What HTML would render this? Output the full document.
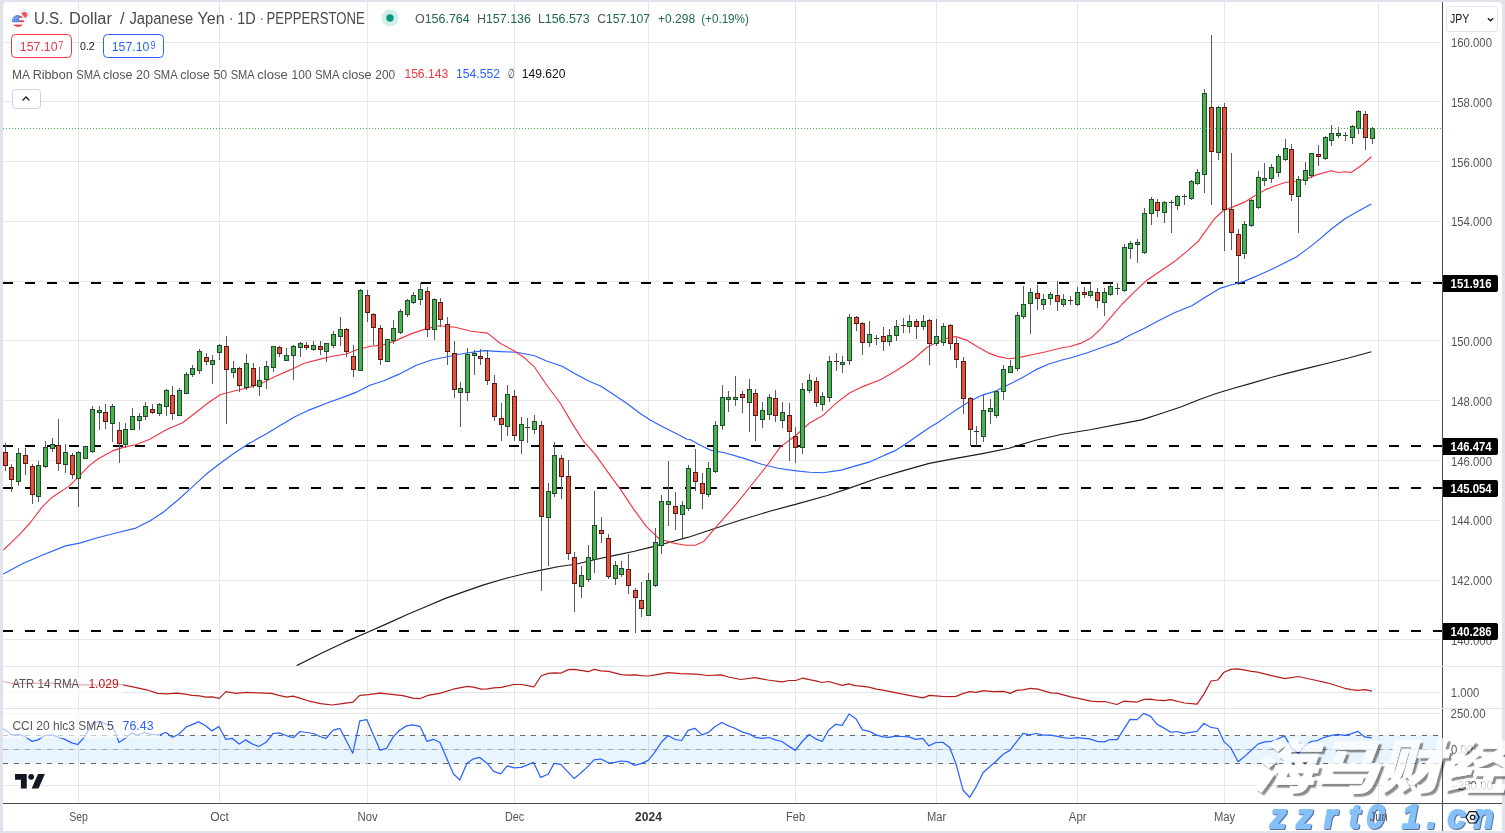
<!DOCTYPE html>
<html><head><meta charset="utf-8"><title>USDJPY chart</title>
<style>
html,body{margin:0;padding:0;background:#e0e3eb;}
body{width:1505px;height:833px;overflow:hidden;position:relative;font-family:'Liberation Sans', sans-serif;}
svg{position:absolute;left:0;top:0;display:block;font-family:'Liberation Sans', sans-serif;}
.wm1{position:absolute;left:1251px;top:728px;font-family:'Liberation Sans','Noto Sans CJK SC',sans-serif;font-weight:900;font-style:italic;font-size:58px;line-height:80px;color:#fff;-webkit-text-stroke:0.700px #fff;white-space:nowrap;text-shadow:2.500px 2.500px 1.200px rgba(0,0,0,.6);opacity:.76;transform:scaleX(1.100);transform-origin:left bottom;}
</style></head>
<body>
<svg width="1505" height="833" viewBox="0 0 1505 833">
<defs><clipPath id="mainclip"><rect x="3" y="2" width="1440" height="664"/></clipPath></defs>
<rect x="0" y="0" width="1505" height="833" fill="#e0e3eb"/>
<path d="M3 831 V6 a4 4 0 0 1 4 -4 H1498 a4 4 0 0 1 4 4 V831 Z" fill="#fff"/>
<rect x="78" y="2" width="1" height="801" fill="#e7e7e7"/>
<rect x="219" y="2" width="1" height="801" fill="#e7e7e7"/>
<rect x="367" y="2" width="1" height="801" fill="#e7e7e7"/>
<rect x="514" y="2" width="1" height="801" fill="#e7e7e7"/>
<rect x="648" y="2" width="1" height="801" fill="#e7e7e7"/>
<rect x="795" y="2" width="1" height="801" fill="#e7e7e7"/>
<rect x="936" y="2" width="1" height="801" fill="#e7e7e7"/>
<rect x="1077" y="2" width="1" height="801" fill="#e7e7e7"/>
<rect x="1224" y="2" width="1" height="801" fill="#e7e7e7"/>
<rect x="1378" y="2" width="1" height="801" fill="#e7e7e7"/>
<rect x="3" y="639" width="1438" height="1" fill="#e7e7e7"/>
<rect x="3" y="580" width="1438" height="1" fill="#e7e7e7"/>
<rect x="3" y="520" width="1438" height="1" fill="#e7e7e7"/>
<rect x="3" y="460" width="1438" height="1" fill="#e7e7e7"/>
<rect x="3" y="400" width="1438" height="1" fill="#e7e7e7"/>
<rect x="3" y="340" width="1438" height="1" fill="#e7e7e7"/>
<rect x="3" y="281" width="1438" height="1" fill="#e7e7e7"/>
<rect x="3" y="221" width="1438" height="1" fill="#e7e7e7"/>
<rect x="3" y="161" width="1438" height="1" fill="#e7e7e7"/>
<rect x="3" y="101" width="1438" height="1" fill="#e7e7e7"/>
<rect x="3" y="42" width="1438" height="1" fill="#e7e7e7"/>
<rect x="3" y="692" width="1438" height="1" fill="#e7e7e7"/>
<rect x="3" y="713" width="1438" height="1" fill="#e7e7e7"/>
<rect x="3" y="785" width="1438" height="1" fill="#e7e7e7"/>
<rect x="3" y="735" width="1439" height="29" fill="#e8f4fe"/>
<rect x="3" y="749" width="1439" height="1" fill="#d8dde5"/>
<line x1="3" y1="735.5" x2="1442" y2="735.5" stroke="#686868" stroke-width="1" stroke-dasharray="5 6"/>
<line x1="3" y1="749.5" x2="1442" y2="749.5" stroke="#a3a6ad" stroke-width="1" stroke-dasharray="5 6"/>
<line x1="3" y1="763.5" x2="1442" y2="763.5" stroke="#686868" stroke-width="1" stroke-dasharray="5 6"/>
<rect x="78" y="735" width="1" height="29" fill="#d5dde6"/>
<rect x="219" y="735" width="1" height="29" fill="#d5dde6"/>
<rect x="367" y="735" width="1" height="29" fill="#d5dde6"/>
<rect x="514" y="735" width="1" height="29" fill="#d5dde6"/>
<rect x="648" y="735" width="1" height="29" fill="#d5dde6"/>
<rect x="795" y="735" width="1" height="29" fill="#d5dde6"/>
<rect x="936" y="735" width="1" height="29" fill="#d5dde6"/>
<rect x="1077" y="735" width="1" height="29" fill="#d5dde6"/>
<rect x="1224" y="735" width="1" height="29" fill="#d5dde6"/>
<rect x="1378" y="735" width="1" height="29" fill="#d5dde6"/>
<line x1="3" y1="283" x2="1443" y2="283" stroke="#000" stroke-width="2" stroke-dasharray="10 12"/>
<line x1="3" y1="446" x2="1443" y2="446" stroke="#000" stroke-width="2" stroke-dasharray="10 12"/>
<line x1="3" y1="488" x2="1443" y2="488" stroke="#000" stroke-width="2" stroke-dasharray="10 12"/>
<line x1="3" y1="631" x2="1443" y2="631" stroke="#000" stroke-width="2" stroke-dasharray="10 12"/>
<g clip-path="url(#mainclip)">
<polyline points="296.7,665.6 321.9,653.0 344.2,642.4 366.5,632.7 388.8,622.9 408.4,614.0 425.1,607.0 444.7,598.6 464.2,591.6 483.7,584.9 506.1,578.2 525.6,573.5 542.3,569.9 559.1,566.5 575.8,564.3 595.4,559.5 614.9,555.4 634.5,551.2 654.0,546.4 670.7,542.0 684.7,538.1 690.0,536.8 713.9,528.8 743.2,519.2 769.7,511.3 796.3,504.1 828.2,495.3 849.5,488.1 876.0,478.8 902.6,470.9 929.2,463.4 955.8,458.4 982.4,453.6 1008.9,448.3 1035.5,440.3 1062.1,434.2 1090.0,429.7 1141.4,419.9 1160.5,413.7 1181.4,406.7 1198.8,399.8 1216.2,393.5 1233.6,388.3 1251.0,383.4 1268.4,378.2 1285.8,373.6 1306.7,368.4 1327.6,363.2 1348.5,358.0 1371.4,351.7" fill="none" stroke="#1a1a1a" stroke-width="1.15" stroke-linejoin="round" />
<polyline points="3.3,574.0 23.4,563.2 42.1,555.3 65.5,545.9 79.6,543.1 98.3,537.5 117.0,532.8 135.8,528.1 149.8,521.1 163.9,511.7 177.9,500.0 191.9,487.4 206.0,474.3 220.0,463.5 234.1,453.2 248.1,443.9 266.9,433.6 280.9,425.1 294.9,416.7 309.0,410.1 327.7,402.7 346.4,396.1 355.8,392.4 369.9,385.3 383.9,380.7 397.9,374.6 400.0,373.7 416.2,365.2 432.4,359.7 448.6,356.5 464.9,353.2 484.3,350.6 500.5,351.6 516.7,352.3 534.6,355.8 545.9,360.7 562.1,366.2 575.1,373.7 588.1,380.8 601.0,386.3 614.0,394.7 627.0,403.5 639.9,413.2 649.7,419.7 662.6,426.8 675.6,433.3 687.0,439.2 690.0,439.5 700.6,445.6 711.3,450.4 724.6,452.8 743.2,458.1 761.8,464.2 777.7,468.2 796.3,470.9 809.6,472.2 822.9,472.7 841.5,470.1 854.8,466.1 870.7,461.6 884.0,455.4 894.7,450.9 905.3,444.3 918.6,435.0 929.2,427.8 937.2,423.0 947.8,415.6 958.4,408.4 969.1,401.8 982.4,395.1 995.6,391.1 1008.9,384.5 1022.2,377.8 1035.5,369.9 1048.8,364.0 1062.1,360.0 1070.0,358.0 1087.4,352.8 1104.8,346.5 1118.7,341.6 1129.2,335.4 1143.1,329.1 1157.0,321.4 1174.4,312.7 1191.8,305.8 1205.7,297.1 1219.7,288.4 1233.6,284.2 1244.0,281.4 1258.0,275.5 1271.9,269.2 1285.8,262.3 1296.2,257.0 1306.7,249.4 1317.1,241.4 1331.1,229.2 1345.0,218.8 1358.9,210.8 1371.4,204.1" fill="none" stroke="#2962ff" stroke-width="1.15" stroke-linejoin="round" />
<polyline points="3.3,550.1 11.7,542.2 21.1,532.8 30.4,522.5 42.1,507.1 51.5,497.7 60.9,491.6 70.2,485.1 79.6,475.7 89.0,465.9 98.3,458.8 112.4,450.9 124.1,447.1 135.8,444.8 149.8,439.2 166.2,429.8 182.6,422.8 196.6,412.0 208.3,402.7 220.0,394.7 234.1,391.0 248.1,387.7 262.2,383.0 276.2,376.0 290.3,369.9 304.3,363.3 318.4,359.6 332.4,356.3 346.4,354.0 358.1,349.3 369.9,346.5 383.9,344.6 397.9,339.9 400.0,338.6 413.0,333.1 425.9,328.9 438.9,325.7 455.1,327.3 471.3,331.2 487.5,333.1 500.5,343.5 513.5,350.6 524.8,358.1 534.6,367.2 545.9,384.0 560.5,403.5 571.9,422.9 583.2,440.8 594.6,453.7 607.5,471.6 620.5,489.4 633.5,508.9 646.4,526.7 659.4,539.0 672.4,542.9 685.3,545.2 695.9,545.1 704.0,541.3 713.9,529.3 724.6,517.4 737.8,502.2 751.1,485.5 767.1,465.5 780.4,446.9 796.3,435.0 809.6,423.0 822.9,415.6 836.2,403.1 849.5,393.0 862.8,386.6 881.4,379.2 897.3,369.9 913.3,359.2 926.5,347.8 937.2,342.0 947.8,338.0 955.8,336.6 966.4,340.1 977.0,346.5 987.7,352.6 998.3,356.6 1008.9,358.7 1019.6,357.4 1032.9,354.5 1046.1,351.8 1062.1,347.8 1070.0,346.5 1080.4,343.4 1090.9,338.1 1101.3,328.4 1111.8,316.2 1122.2,304.0 1134.4,291.9 1146.6,280.4 1160.5,271.0 1174.4,261.6 1188.3,250.1 1198.8,240.7 1205.7,230.9 1214.4,218.8 1223.2,210.8 1233.6,206.6 1244.0,202.4 1254.5,196.1 1264.9,189.9 1275.4,185.7 1285.8,182.2 1296.2,181.5 1306.7,178.7 1317.1,174.6 1331.1,170.7 1338.0,172.5 1345.0,171.8 1351.2,172.5 1362.4,164.8 1371.4,156.8" fill="none" stroke="#f23645" stroke-width="1.15" stroke-linejoin="round" />
</g>
<g shape-rendering="crispEdges"><rect x="5" y="443" width="1" height="28" fill="#5a5a5a"/><rect x="3" y="452" width="5" height="14" fill="#5a1b14"/><rect x="4" y="453" width="3" height="12" fill="#e0543f"/><rect x="11" y="464" width="1" height="28" fill="#5a5a5a"/><rect x="9" y="467" width="5" height="13" fill="#5a1b14"/><rect x="10" y="468" width="3" height="11" fill="#e0543f"/><rect x="18" y="448" width="1" height="38" fill="#5a5a5a"/><rect x="16" y="453" width="5" height="29" fill="#1d4d2b"/><rect x="17" y="454" width="3" height="27" fill="#4caf50"/><rect x="25" y="448" width="1" height="27" fill="#5a5a5a"/><rect x="23" y="455" width="5" height="9" fill="#5a1b14"/><rect x="24" y="456" width="3" height="7" fill="#e0543f"/><rect x="32" y="464" width="1" height="40" fill="#5a5a5a"/><rect x="30" y="466" width="5" height="29" fill="#5a1b14"/><rect x="31" y="467" width="3" height="27" fill="#e0543f"/><rect x="38" y="461" width="1" height="41" fill="#5a5a5a"/><rect x="36" y="465" width="5" height="32" fill="#1d4d2b"/><rect x="37" y="466" width="3" height="30" fill="#4caf50"/><rect x="45" y="441" width="1" height="27" fill="#5a5a5a"/><rect x="43" y="447" width="5" height="20" fill="#1d4d2b"/><rect x="44" y="448" width="3" height="18" fill="#4caf50"/><rect x="52" y="438" width="1" height="14" fill="#5a5a5a"/><rect x="50" y="444" width="5" height="5" fill="#1d4d2b"/><rect x="51" y="445" width="3" height="3" fill="#4caf50"/><rect x="58" y="419" width="1" height="52" fill="#5a5a5a"/><rect x="56" y="445" width="5" height="19" fill="#5a1b14"/><rect x="57" y="446" width="3" height="17" fill="#e0543f"/><rect x="65" y="444" width="1" height="29" fill="#5a5a5a"/><rect x="63" y="452" width="5" height="13" fill="#1d4d2b"/><rect x="64" y="453" width="3" height="11" fill="#4caf50"/><rect x="72" y="453" width="1" height="26" fill="#5a5a5a"/><rect x="70" y="455" width="5" height="20" fill="#5a1b14"/><rect x="71" y="456" width="3" height="18" fill="#e0543f"/><rect x="78" y="451" width="1" height="56" fill="#5a5a5a"/><rect x="76" y="452" width="5" height="27" fill="#1d4d2b"/><rect x="77" y="453" width="3" height="25" fill="#4caf50"/><rect x="85" y="446" width="1" height="13" fill="#5a5a5a"/><rect x="83" y="446" width="5" height="13" fill="#1d4d2b"/><rect x="84" y="447" width="3" height="11" fill="#4caf50"/><rect x="92" y="406" width="1" height="47" fill="#5a5a5a"/><rect x="90" y="409" width="5" height="43" fill="#1d4d2b"/><rect x="91" y="410" width="3" height="41" fill="#4caf50"/><rect x="99" y="406" width="1" height="24" fill="#5a5a5a"/><rect x="97" y="410" width="5" height="3" fill="#1d4d2b"/><rect x="98" y="411" width="3" height="1" fill="#4caf50"/><rect x="105" y="404" width="1" height="25" fill="#5a5a5a"/><rect x="103" y="412" width="5" height="10" fill="#5a1b14"/><rect x="104" y="413" width="3" height="8" fill="#e0543f"/><rect x="112" y="404" width="1" height="38" fill="#5a5a5a"/><rect x="110" y="406" width="5" height="18" fill="#1d4d2b"/><rect x="111" y="407" width="3" height="16" fill="#4caf50"/><rect x="119" y="422" width="1" height="41" fill="#5a5a5a"/><rect x="117" y="430" width="5" height="14" fill="#5a1b14"/><rect x="118" y="431" width="3" height="12" fill="#e0543f"/><rect x="125" y="423" width="1" height="25" fill="#5a5a5a"/><rect x="123" y="429" width="5" height="16" fill="#1d4d2b"/><rect x="124" y="430" width="3" height="14" fill="#4caf50"/><rect x="132" y="408" width="1" height="22" fill="#5a5a5a"/><rect x="130" y="416" width="5" height="14" fill="#1d4d2b"/><rect x="131" y="417" width="3" height="12" fill="#4caf50"/><rect x="139" y="413" width="1" height="17" fill="#5a5a5a"/><rect x="137" y="416" width="5" height="5" fill="#1d4d2b"/><rect x="138" y="417" width="3" height="3" fill="#4caf50"/><rect x="145" y="402" width="1" height="18" fill="#5a5a5a"/><rect x="143" y="406" width="5" height="11" fill="#1d4d2b"/><rect x="144" y="407" width="3" height="9" fill="#4caf50"/><rect x="152" y="404" width="1" height="10" fill="#5a5a5a"/><rect x="150" y="409" width="5" height="4" fill="#5a1b14"/><rect x="151" y="410" width="3" height="2" fill="#e0543f"/><rect x="159" y="403" width="1" height="13" fill="#5a5a5a"/><rect x="157" y="404" width="5" height="10" fill="#1d4d2b"/><rect x="158" y="405" width="3" height="8" fill="#4caf50"/><rect x="166" y="389" width="1" height="27" fill="#5a5a5a"/><rect x="164" y="390" width="5" height="17" fill="#1d4d2b"/><rect x="165" y="391" width="3" height="15" fill="#4caf50"/><rect x="172" y="386" width="1" height="34" fill="#5a5a5a"/><rect x="170" y="395" width="5" height="19" fill="#5a1b14"/><rect x="171" y="396" width="3" height="17" fill="#e0543f"/><rect x="179" y="388" width="1" height="28" fill="#5a5a5a"/><rect x="177" y="390" width="5" height="26" fill="#1d4d2b"/><rect x="178" y="391" width="3" height="24" fill="#4caf50"/><rect x="186" y="372" width="1" height="22" fill="#5a5a5a"/><rect x="184" y="374" width="5" height="20" fill="#1d4d2b"/><rect x="185" y="375" width="3" height="18" fill="#4caf50"/><rect x="192" y="365" width="1" height="12" fill="#5a5a5a"/><rect x="190" y="368" width="5" height="7" fill="#1d4d2b"/><rect x="191" y="369" width="3" height="5" fill="#4caf50"/><rect x="199" y="349" width="1" height="25" fill="#5a5a5a"/><rect x="197" y="351" width="5" height="20" fill="#1d4d2b"/><rect x="198" y="352" width="3" height="18" fill="#4caf50"/><rect x="206" y="353" width="1" height="12" fill="#5a5a5a"/><rect x="204" y="357" width="5" height="5" fill="#5a1b14"/><rect x="205" y="358" width="3" height="3" fill="#e0543f"/><rect x="212" y="355" width="1" height="29" fill="#5a5a5a"/><rect x="210" y="360" width="5" height="5" fill="#1d4d2b"/><rect x="211" y="361" width="3" height="3" fill="#4caf50"/><rect x="219" y="344" width="1" height="16" fill="#5a5a5a"/><rect x="217" y="345" width="5" height="8" fill="#1d4d2b"/><rect x="218" y="346" width="3" height="6" fill="#4caf50"/><rect x="226" y="336" width="1" height="88" fill="#5a5a5a"/><rect x="224" y="346" width="5" height="24" fill="#5a1b14"/><rect x="225" y="347" width="3" height="22" fill="#e0543f"/><rect x="233" y="361" width="1" height="17" fill="#5a5a5a"/><rect x="231" y="368" width="5" height="5" fill="#1d4d2b"/><rect x="232" y="369" width="3" height="3" fill="#4caf50"/><rect x="239" y="367" width="1" height="25" fill="#5a5a5a"/><rect x="237" y="368" width="5" height="18" fill="#5a1b14"/><rect x="238" y="369" width="3" height="16" fill="#e0543f"/><rect x="246" y="354" width="1" height="36" fill="#5a5a5a"/><rect x="244" y="363" width="5" height="25" fill="#1d4d2b"/><rect x="245" y="364" width="3" height="23" fill="#4caf50"/><rect x="253" y="363" width="1" height="25" fill="#5a5a5a"/><rect x="251" y="368" width="5" height="18" fill="#5a1b14"/><rect x="252" y="369" width="3" height="16" fill="#e0543f"/><rect x="259" y="367" width="1" height="29" fill="#5a5a5a"/><rect x="257" y="380" width="5" height="7" fill="#1d4d2b"/><rect x="258" y="381" width="3" height="5" fill="#4caf50"/><rect x="266" y="361" width="1" height="28" fill="#5a5a5a"/><rect x="264" y="366" width="5" height="14" fill="#1d4d2b"/><rect x="265" y="367" width="3" height="12" fill="#4caf50"/><rect x="273" y="346" width="1" height="26" fill="#5a5a5a"/><rect x="271" y="346" width="5" height="22" fill="#1d4d2b"/><rect x="272" y="347" width="3" height="20" fill="#4caf50"/><rect x="279" y="346" width="1" height="11" fill="#5a5a5a"/><rect x="277" y="347" width="5" height="7" fill="#5a1b14"/><rect x="278" y="348" width="3" height="5" fill="#e0543f"/><rect x="286" y="348" width="1" height="13" fill="#5a5a5a"/><rect x="284" y="355" width="5" height="6" fill="#1d4d2b"/><rect x="285" y="356" width="3" height="4" fill="#4caf50"/><rect x="293" y="345" width="1" height="35" fill="#5a5a5a"/><rect x="291" y="346" width="5" height="10" fill="#1d4d2b"/><rect x="292" y="347" width="3" height="8" fill="#4caf50"/><rect x="300" y="342" width="1" height="15" fill="#5a5a5a"/><rect x="298" y="343" width="5" height="5" fill="#1d4d2b"/><rect x="299" y="344" width="3" height="3" fill="#4caf50"/><rect x="306" y="342" width="1" height="8" fill="#5a5a5a"/><rect x="304" y="345" width="5" height="3" fill="#5a1b14"/><rect x="305" y="346" width="3" height="1" fill="#e0543f"/><rect x="313" y="341" width="1" height="10" fill="#5a5a5a"/><rect x="311" y="345" width="5" height="5" fill="#1d4d2b"/><rect x="312" y="346" width="3" height="3" fill="#4caf50"/><rect x="320" y="341" width="1" height="14" fill="#5a5a5a"/><rect x="318" y="346" width="5" height="4" fill="#5a1b14"/><rect x="319" y="347" width="3" height="2" fill="#e0543f"/><rect x="326" y="343" width="1" height="19" fill="#5a5a5a"/><rect x="324" y="343" width="5" height="9" fill="#1d4d2b"/><rect x="325" y="344" width="3" height="7" fill="#4caf50"/><rect x="333" y="331" width="1" height="17" fill="#5a5a5a"/><rect x="331" y="334" width="5" height="12" fill="#1d4d2b"/><rect x="332" y="335" width="3" height="10" fill="#4caf50"/><rect x="340" y="317" width="1" height="29" fill="#5a5a5a"/><rect x="338" y="329" width="5" height="8" fill="#1d4d2b"/><rect x="339" y="330" width="3" height="6" fill="#4caf50"/><rect x="346" y="328" width="1" height="29" fill="#5a5a5a"/><rect x="344" y="329" width="5" height="23" fill="#5a1b14"/><rect x="345" y="330" width="3" height="21" fill="#e0543f"/><rect x="353" y="345" width="1" height="32" fill="#5a5a5a"/><rect x="351" y="356" width="5" height="14" fill="#5a1b14"/><rect x="352" y="357" width="3" height="12" fill="#e0543f"/><rect x="360" y="289" width="1" height="82" fill="#5a5a5a"/><rect x="358" y="290" width="5" height="81" fill="#1d4d2b"/><rect x="359" y="291" width="3" height="79" fill="#4caf50"/><rect x="367" y="290" width="1" height="32" fill="#5a5a5a"/><rect x="365" y="295" width="5" height="18" fill="#5a1b14"/><rect x="366" y="296" width="3" height="16" fill="#e0543f"/><rect x="373" y="313" width="1" height="32" fill="#5a5a5a"/><rect x="371" y="314" width="5" height="14" fill="#5a1b14"/><rect x="372" y="315" width="3" height="12" fill="#e0543f"/><rect x="380" y="325" width="1" height="40" fill="#5a5a5a"/><rect x="378" y="328" width="5" height="32" fill="#5a1b14"/><rect x="379" y="329" width="3" height="30" fill="#e0543f"/><rect x="387" y="339" width="1" height="23" fill="#5a5a5a"/><rect x="385" y="339" width="5" height="23" fill="#1d4d2b"/><rect x="386" y="340" width="3" height="21" fill="#4caf50"/><rect x="393" y="320" width="1" height="24" fill="#5a5a5a"/><rect x="391" y="328" width="5" height="13" fill="#1d4d2b"/><rect x="392" y="329" width="3" height="11" fill="#4caf50"/><rect x="400" y="309" width="1" height="25" fill="#5a5a5a"/><rect x="398" y="311" width="5" height="22" fill="#1d4d2b"/><rect x="399" y="312" width="3" height="20" fill="#4caf50"/><rect x="407" y="299" width="1" height="18" fill="#5a5a5a"/><rect x="405" y="300" width="5" height="15" fill="#1d4d2b"/><rect x="406" y="301" width="3" height="13" fill="#4caf50"/><rect x="413" y="292" width="1" height="12" fill="#5a5a5a"/><rect x="411" y="295" width="5" height="8" fill="#1d4d2b"/><rect x="412" y="296" width="3" height="6" fill="#4caf50"/><rect x="420" y="283" width="1" height="22" fill="#5a5a5a"/><rect x="418" y="289" width="5" height="11" fill="#1d4d2b"/><rect x="419" y="290" width="3" height="9" fill="#4caf50"/><rect x="427" y="287" width="1" height="50" fill="#5a5a5a"/><rect x="425" y="291" width="5" height="39" fill="#5a1b14"/><rect x="426" y="292" width="3" height="37" fill="#e0543f"/><rect x="434" y="298" width="1" height="42" fill="#5a5a5a"/><rect x="432" y="299" width="5" height="31" fill="#1d4d2b"/><rect x="433" y="300" width="3" height="29" fill="#4caf50"/><rect x="440" y="298" width="1" height="29" fill="#5a5a5a"/><rect x="438" y="302" width="5" height="18" fill="#5a1b14"/><rect x="439" y="303" width="3" height="16" fill="#e0543f"/><rect x="447" y="317" width="1" height="48" fill="#5a5a5a"/><rect x="445" y="324" width="5" height="28" fill="#5a1b14"/><rect x="446" y="325" width="3" height="26" fill="#e0543f"/><rect x="454" y="341" width="1" height="57" fill="#5a5a5a"/><rect x="452" y="353" width="5" height="37" fill="#5a1b14"/><rect x="453" y="354" width="3" height="35" fill="#e0543f"/><rect x="460" y="382" width="1" height="45" fill="#5a5a5a"/><rect x="458" y="388" width="5" height="5" fill="#1d4d2b"/><rect x="459" y="389" width="3" height="3" fill="#4caf50"/><rect x="467" y="348" width="1" height="53" fill="#5a5a5a"/><rect x="465" y="354" width="5" height="39" fill="#1d4d2b"/><rect x="466" y="355" width="3" height="37" fill="#4caf50"/><rect x="474" y="350" width="1" height="25" fill="#5a5a5a"/><rect x="472" y="353" width="5" height="3" fill="#1d4d2b"/><rect x="473" y="354" width="3" height="1" fill="#4caf50"/><rect x="480" y="349" width="1" height="16" fill="#5a5a5a"/><rect x="478" y="356" width="5" height="3" fill="#5a1b14"/><rect x="479" y="357" width="3" height="1" fill="#e0543f"/><rect x="487" y="350" width="1" height="35" fill="#5a5a5a"/><rect x="485" y="358" width="5" height="23" fill="#5a1b14"/><rect x="486" y="359" width="3" height="21" fill="#e0543f"/><rect x="494" y="375" width="1" height="46" fill="#5a5a5a"/><rect x="492" y="383" width="5" height="34" fill="#5a1b14"/><rect x="493" y="384" width="3" height="32" fill="#e0543f"/><rect x="501" y="403" width="1" height="38" fill="#5a5a5a"/><rect x="499" y="418" width="5" height="7" fill="#5a1b14"/><rect x="500" y="419" width="3" height="5" fill="#e0543f"/><rect x="507" y="385" width="1" height="51" fill="#5a5a5a"/><rect x="505" y="394" width="5" height="33" fill="#1d4d2b"/><rect x="506" y="395" width="3" height="31" fill="#4caf50"/><rect x="514" y="390" width="1" height="51" fill="#5a5a5a"/><rect x="512" y="396" width="5" height="40" fill="#5a1b14"/><rect x="513" y="397" width="3" height="38" fill="#e0543f"/><rect x="521" y="417" width="1" height="37" fill="#5a5a5a"/><rect x="519" y="424" width="5" height="17" fill="#1d4d2b"/><rect x="520" y="425" width="3" height="15" fill="#4caf50"/><rect x="527" y="418" width="1" height="25" fill="#5a5a5a"/><rect x="525" y="427" width="5" height="1" fill="#1d4d2b"/><rect x="534" y="415" width="1" height="19" fill="#5a5a5a"/><rect x="532" y="421" width="5" height="9" fill="#1d4d2b"/><rect x="533" y="422" width="3" height="7" fill="#4caf50"/><rect x="541" y="421" width="1" height="170" fill="#5a5a5a"/><rect x="539" y="425" width="5" height="92" fill="#5a1b14"/><rect x="540" y="426" width="3" height="90" fill="#e0543f"/><rect x="548" y="483" width="1" height="83" fill="#5a5a5a"/><rect x="546" y="491" width="5" height="27" fill="#1d4d2b"/><rect x="547" y="492" width="3" height="25" fill="#4caf50"/><rect x="554" y="442" width="1" height="55" fill="#5a5a5a"/><rect x="552" y="455" width="5" height="39" fill="#1d4d2b"/><rect x="553" y="456" width="3" height="37" fill="#4caf50"/><rect x="561" y="455" width="1" height="44" fill="#5a5a5a"/><rect x="559" y="458" width="5" height="19" fill="#5a1b14"/><rect x="560" y="459" width="3" height="17" fill="#e0543f"/><rect x="568" y="460" width="1" height="100" fill="#5a5a5a"/><rect x="566" y="476" width="5" height="78" fill="#5a1b14"/><rect x="567" y="477" width="3" height="76" fill="#e0543f"/><rect x="574" y="552" width="1" height="60" fill="#5a5a5a"/><rect x="572" y="557" width="5" height="27" fill="#5a1b14"/><rect x="573" y="558" width="3" height="25" fill="#e0543f"/><rect x="581" y="566" width="1" height="32" fill="#5a5a5a"/><rect x="579" y="575" width="5" height="12" fill="#1d4d2b"/><rect x="580" y="576" width="3" height="10" fill="#4caf50"/><rect x="588" y="545" width="1" height="37" fill="#5a5a5a"/><rect x="586" y="557" width="5" height="23" fill="#1d4d2b"/><rect x="587" y="558" width="3" height="21" fill="#4caf50"/><rect x="594" y="491" width="1" height="82" fill="#5a5a5a"/><rect x="592" y="525" width="5" height="35" fill="#1d4d2b"/><rect x="593" y="526" width="3" height="33" fill="#4caf50"/><rect x="601" y="517" width="1" height="26" fill="#5a5a5a"/><rect x="599" y="530" width="5" height="4" fill="#5a1b14"/><rect x="600" y="531" width="3" height="2" fill="#e0543f"/><rect x="608" y="534" width="1" height="45" fill="#5a5a5a"/><rect x="606" y="538" width="5" height="39" fill="#5a1b14"/><rect x="607" y="539" width="3" height="37" fill="#e0543f"/><rect x="615" y="561" width="1" height="24" fill="#5a5a5a"/><rect x="613" y="565" width="5" height="14" fill="#1d4d2b"/><rect x="614" y="566" width="3" height="12" fill="#4caf50"/><rect x="621" y="561" width="1" height="16" fill="#5a5a5a"/><rect x="619" y="568" width="5" height="7" fill="#1d4d2b"/><rect x="620" y="569" width="3" height="5" fill="#4caf50"/><rect x="628" y="554" width="1" height="40" fill="#5a5a5a"/><rect x="626" y="569" width="5" height="17" fill="#5a1b14"/><rect x="627" y="570" width="3" height="15" fill="#e0543f"/><rect x="635" y="588" width="1" height="45" fill="#5a5a5a"/><rect x="633" y="590" width="5" height="8" fill="#5a1b14"/><rect x="634" y="591" width="3" height="6" fill="#e0543f"/><rect x="641" y="582" width="1" height="35" fill="#5a5a5a"/><rect x="639" y="600" width="5" height="9" fill="#5a1b14"/><rect x="640" y="601" width="3" height="7" fill="#e0543f"/><rect x="648" y="573" width="1" height="43" fill="#5a5a5a"/><rect x="646" y="580" width="5" height="36" fill="#1d4d2b"/><rect x="647" y="581" width="3" height="34" fill="#4caf50"/><rect x="655" y="528" width="1" height="59" fill="#5a5a5a"/><rect x="653" y="542" width="5" height="44" fill="#1d4d2b"/><rect x="654" y="543" width="3" height="42" fill="#4caf50"/><rect x="661" y="495" width="1" height="59" fill="#5a5a5a"/><rect x="659" y="501" width="5" height="45" fill="#1d4d2b"/><rect x="660" y="502" width="3" height="43" fill="#4caf50"/><rect x="668" y="461" width="1" height="65" fill="#5a5a5a"/><rect x="666" y="501" width="5" height="4" fill="#1d4d2b"/><rect x="667" y="502" width="3" height="2" fill="#4caf50"/><rect x="675" y="492" width="1" height="38" fill="#5a5a5a"/><rect x="673" y="506" width="5" height="8" fill="#5a1b14"/><rect x="674" y="507" width="3" height="6" fill="#e0543f"/><rect x="682" y="501" width="1" height="37" fill="#5a5a5a"/><rect x="680" y="505" width="5" height="10" fill="#1d4d2b"/><rect x="681" y="506" width="3" height="8" fill="#4caf50"/><rect x="688" y="465" width="1" height="46" fill="#5a5a5a"/><rect x="686" y="468" width="5" height="41" fill="#1d4d2b"/><rect x="687" y="469" width="3" height="39" fill="#4caf50"/><rect x="695" y="449" width="1" height="42" fill="#5a5a5a"/><rect x="693" y="472" width="5" height="10" fill="#5a1b14"/><rect x="694" y="473" width="3" height="8" fill="#e0543f"/><rect x="702" y="473" width="1" height="36" fill="#5a5a5a"/><rect x="700" y="483" width="5" height="11" fill="#5a1b14"/><rect x="701" y="484" width="3" height="9" fill="#e0543f"/><rect x="708" y="462" width="1" height="35" fill="#5a5a5a"/><rect x="706" y="468" width="5" height="27" fill="#1d4d2b"/><rect x="707" y="469" width="3" height="25" fill="#4caf50"/><rect x="715" y="421" width="1" height="52" fill="#5a5a5a"/><rect x="713" y="425" width="5" height="47" fill="#1d4d2b"/><rect x="714" y="426" width="3" height="45" fill="#4caf50"/><rect x="722" y="385" width="1" height="45" fill="#5a5a5a"/><rect x="720" y="397" width="5" height="29" fill="#1d4d2b"/><rect x="721" y="398" width="3" height="27" fill="#4caf50"/><rect x="728" y="391" width="1" height="21" fill="#5a5a5a"/><rect x="726" y="397" width="5" height="3" fill="#1d4d2b"/><rect x="727" y="398" width="3" height="1" fill="#4caf50"/><rect x="735" y="376" width="1" height="30" fill="#5a5a5a"/><rect x="733" y="397" width="5" height="3" fill="#1d4d2b"/><rect x="734" y="398" width="3" height="1" fill="#4caf50"/><rect x="742" y="391" width="1" height="22" fill="#5a5a5a"/><rect x="740" y="394" width="5" height="4" fill="#5a1b14"/><rect x="741" y="395" width="3" height="2" fill="#e0543f"/><rect x="749" y="379" width="1" height="53" fill="#5a5a5a"/><rect x="747" y="389" width="5" height="14" fill="#1d4d2b"/><rect x="748" y="390" width="3" height="12" fill="#4caf50"/><rect x="755" y="389" width="1" height="52" fill="#5a5a5a"/><rect x="753" y="393" width="5" height="23" fill="#5a1b14"/><rect x="754" y="394" width="3" height="21" fill="#e0543f"/><rect x="762" y="402" width="1" height="26" fill="#5a5a5a"/><rect x="760" y="410" width="5" height="10" fill="#1d4d2b"/><rect x="761" y="411" width="3" height="8" fill="#4caf50"/><rect x="769" y="394" width="1" height="26" fill="#5a5a5a"/><rect x="767" y="397" width="5" height="18" fill="#1d4d2b"/><rect x="768" y="398" width="3" height="16" fill="#4caf50"/><rect x="775" y="390" width="1" height="32" fill="#5a5a5a"/><rect x="773" y="398" width="5" height="18" fill="#5a1b14"/><rect x="774" y="399" width="3" height="16" fill="#e0543f"/><rect x="782" y="402" width="1" height="26" fill="#5a5a5a"/><rect x="780" y="412" width="5" height="9" fill="#1d4d2b"/><rect x="781" y="413" width="3" height="7" fill="#4caf50"/><rect x="789" y="403" width="1" height="58" fill="#5a5a5a"/><rect x="787" y="415" width="5" height="17" fill="#5a1b14"/><rect x="788" y="416" width="3" height="15" fill="#e0543f"/><rect x="795" y="427" width="1" height="36" fill="#5a5a5a"/><rect x="793" y="436" width="5" height="12" fill="#5a1b14"/><rect x="794" y="437" width="3" height="10" fill="#e0543f"/><rect x="802" y="383" width="1" height="71" fill="#5a5a5a"/><rect x="800" y="389" width="5" height="59" fill="#1d4d2b"/><rect x="801" y="390" width="3" height="57" fill="#4caf50"/><rect x="809" y="374" width="1" height="19" fill="#5a5a5a"/><rect x="807" y="380" width="5" height="11" fill="#1d4d2b"/><rect x="808" y="381" width="3" height="9" fill="#4caf50"/><rect x="816" y="377" width="1" height="30" fill="#5a5a5a"/><rect x="814" y="381" width="5" height="22" fill="#5a1b14"/><rect x="815" y="382" width="3" height="20" fill="#e0543f"/><rect x="822" y="392" width="1" height="19" fill="#5a5a5a"/><rect x="820" y="396" width="5" height="9" fill="#1d4d2b"/><rect x="821" y="397" width="3" height="7" fill="#4caf50"/><rect x="829" y="356" width="1" height="46" fill="#5a5a5a"/><rect x="827" y="361" width="5" height="37" fill="#1d4d2b"/><rect x="828" y="362" width="3" height="35" fill="#4caf50"/><rect x="836" y="353" width="1" height="18" fill="#5a5a5a"/><rect x="834" y="361" width="5" height="1" fill="#5a1b14"/><rect x="842" y="356" width="1" height="17" fill="#5a5a5a"/><rect x="840" y="362" width="5" height="3" fill="#1d4d2b"/><rect x="841" y="363" width="3" height="1" fill="#4caf50"/><rect x="849" y="314" width="1" height="51" fill="#5a5a5a"/><rect x="847" y="317" width="5" height="44" fill="#1d4d2b"/><rect x="848" y="318" width="3" height="42" fill="#4caf50"/><rect x="856" y="316" width="1" height="15" fill="#5a5a5a"/><rect x="854" y="317" width="5" height="7" fill="#5a1b14"/><rect x="855" y="318" width="3" height="5" fill="#e0543f"/><rect x="862" y="322" width="1" height="33" fill="#5a5a5a"/><rect x="860" y="323" width="5" height="20" fill="#5a1b14"/><rect x="861" y="324" width="3" height="18" fill="#e0543f"/><rect x="869" y="321" width="1" height="26" fill="#5a5a5a"/><rect x="867" y="334" width="5" height="9" fill="#1d4d2b"/><rect x="868" y="335" width="3" height="7" fill="#4caf50"/><rect x="876" y="335" width="1" height="10" fill="#5a5a5a"/><rect x="874" y="338" width="5" height="1" fill="#1d4d2b"/><rect x="883" y="327" width="1" height="24" fill="#5a5a5a"/><rect x="881" y="336" width="5" height="6" fill="#5a1b14"/><rect x="882" y="337" width="3" height="4" fill="#e0543f"/><rect x="889" y="329" width="1" height="17" fill="#5a5a5a"/><rect x="887" y="335" width="5" height="7" fill="#1d4d2b"/><rect x="888" y="336" width="3" height="5" fill="#4caf50"/><rect x="896" y="320" width="1" height="21" fill="#5a5a5a"/><rect x="894" y="326" width="5" height="10" fill="#1d4d2b"/><rect x="895" y="327" width="3" height="8" fill="#4caf50"/><rect x="903" y="318" width="1" height="15" fill="#5a5a5a"/><rect x="901" y="325" width="5" height="1" fill="#5a1b14"/><rect x="909" y="315" width="1" height="18" fill="#5a5a5a"/><rect x="907" y="321" width="5" height="6" fill="#1d4d2b"/><rect x="908" y="322" width="3" height="4" fill="#4caf50"/><rect x="916" y="319" width="1" height="20" fill="#5a5a5a"/><rect x="914" y="321" width="5" height="6" fill="#5a1b14"/><rect x="915" y="322" width="3" height="4" fill="#e0543f"/><rect x="923" y="315" width="1" height="15" fill="#5a5a5a"/><rect x="921" y="321" width="5" height="6" fill="#1d4d2b"/><rect x="922" y="322" width="3" height="4" fill="#4caf50"/><rect x="929" y="319" width="1" height="46" fill="#5a5a5a"/><rect x="927" y="320" width="5" height="24" fill="#5a1b14"/><rect x="928" y="321" width="3" height="22" fill="#e0543f"/><rect x="936" y="319" width="1" height="27" fill="#5a5a5a"/><rect x="934" y="336" width="5" height="8" fill="#1d4d2b"/><rect x="935" y="337" width="3" height="6" fill="#4caf50"/><rect x="943" y="323" width="1" height="23" fill="#5a5a5a"/><rect x="941" y="326" width="5" height="17" fill="#1d4d2b"/><rect x="942" y="327" width="3" height="15" fill="#4caf50"/><rect x="950" y="324" width="1" height="26" fill="#5a5a5a"/><rect x="948" y="325" width="5" height="19" fill="#5a1b14"/><rect x="949" y="326" width="3" height="17" fill="#e0543f"/><rect x="956" y="338" width="1" height="30" fill="#5a5a5a"/><rect x="954" y="343" width="5" height="17" fill="#5a1b14"/><rect x="955" y="344" width="3" height="15" fill="#e0543f"/><rect x="963" y="357" width="1" height="57" fill="#5a5a5a"/><rect x="961" y="361" width="5" height="38" fill="#5a1b14"/><rect x="962" y="362" width="3" height="36" fill="#e0543f"/><rect x="970" y="397" width="1" height="49" fill="#5a5a5a"/><rect x="968" y="398" width="5" height="32" fill="#5a1b14"/><rect x="969" y="399" width="3" height="30" fill="#e0543f"/><rect x="976" y="426" width="1" height="20" fill="#5a5a5a"/><rect x="974" y="431" width="5" height="1" fill="#5a1b14"/><rect x="983" y="395" width="1" height="47" fill="#5a5a5a"/><rect x="981" y="410" width="5" height="27" fill="#1d4d2b"/><rect x="982" y="411" width="3" height="25" fill="#4caf50"/><rect x="990" y="399" width="1" height="25" fill="#5a5a5a"/><rect x="988" y="408" width="5" height="4" fill="#1d4d2b"/><rect x="989" y="409" width="3" height="2" fill="#4caf50"/><rect x="996" y="390" width="1" height="28" fill="#5a5a5a"/><rect x="994" y="391" width="5" height="25" fill="#1d4d2b"/><rect x="995" y="392" width="3" height="23" fill="#4caf50"/><rect x="1003" y="365" width="1" height="35" fill="#5a5a5a"/><rect x="1001" y="369" width="5" height="23" fill="#1d4d2b"/><rect x="1002" y="370" width="3" height="21" fill="#4caf50"/><rect x="1010" y="360" width="1" height="13" fill="#5a5a5a"/><rect x="1008" y="366" width="5" height="7" fill="#1d4d2b"/><rect x="1009" y="367" width="3" height="5" fill="#4caf50"/><rect x="1017" y="312" width="1" height="59" fill="#5a5a5a"/><rect x="1015" y="315" width="5" height="54" fill="#1d4d2b"/><rect x="1016" y="316" width="3" height="52" fill="#4caf50"/><rect x="1023" y="286" width="1" height="33" fill="#5a5a5a"/><rect x="1021" y="304" width="5" height="13" fill="#1d4d2b"/><rect x="1022" y="305" width="3" height="11" fill="#4caf50"/><rect x="1030" y="288" width="1" height="46" fill="#5a5a5a"/><rect x="1028" y="292" width="5" height="12" fill="#1d4d2b"/><rect x="1029" y="293" width="3" height="10" fill="#4caf50"/><rect x="1037" y="285" width="1" height="25" fill="#5a5a5a"/><rect x="1035" y="293" width="5" height="6" fill="#5a1b14"/><rect x="1036" y="294" width="3" height="4" fill="#e0543f"/><rect x="1043" y="294" width="1" height="16" fill="#5a5a5a"/><rect x="1041" y="299" width="5" height="6" fill="#1d4d2b"/><rect x="1042" y="300" width="3" height="4" fill="#4caf50"/><rect x="1050" y="292" width="1" height="13" fill="#5a5a5a"/><rect x="1048" y="294" width="5" height="5" fill="#1d4d2b"/><rect x="1049" y="295" width="3" height="3" fill="#4caf50"/><rect x="1057" y="281" width="1" height="30" fill="#5a5a5a"/><rect x="1055" y="295" width="5" height="7" fill="#5a1b14"/><rect x="1056" y="296" width="3" height="5" fill="#e0543f"/><rect x="1063" y="294" width="1" height="13" fill="#5a5a5a"/><rect x="1061" y="299" width="5" height="6" fill="#1d4d2b"/><rect x="1062" y="300" width="3" height="4" fill="#4caf50"/><rect x="1070" y="296" width="1" height="9" fill="#5a5a5a"/><rect x="1068" y="300" width="5" height="1" fill="#5a1b14"/><rect x="1077" y="287" width="1" height="19" fill="#5a5a5a"/><rect x="1075" y="292" width="5" height="13" fill="#1d4d2b"/><rect x="1076" y="293" width="3" height="11" fill="#4caf50"/><rect x="1084" y="287" width="1" height="11" fill="#5a5a5a"/><rect x="1082" y="292" width="5" height="3" fill="#5a1b14"/><rect x="1083" y="293" width="3" height="1" fill="#e0543f"/><rect x="1090" y="283" width="1" height="15" fill="#5a5a5a"/><rect x="1088" y="291" width="5" height="5" fill="#1d4d2b"/><rect x="1089" y="292" width="3" height="3" fill="#4caf50"/><rect x="1097" y="288" width="1" height="20" fill="#5a5a5a"/><rect x="1095" y="292" width="5" height="9" fill="#5a1b14"/><rect x="1096" y="293" width="3" height="7" fill="#e0543f"/><rect x="1104" y="288" width="1" height="28" fill="#5a5a5a"/><rect x="1102" y="292" width="5" height="11" fill="#1d4d2b"/><rect x="1103" y="293" width="3" height="9" fill="#4caf50"/><rect x="1110" y="283" width="1" height="13" fill="#5a5a5a"/><rect x="1108" y="286" width="5" height="9" fill="#1d4d2b"/><rect x="1109" y="287" width="3" height="7" fill="#4caf50"/><rect x="1117" y="283" width="1" height="12" fill="#5a5a5a"/><rect x="1115" y="288" width="5" height="1" fill="#1d4d2b"/><rect x="1124" y="244" width="1" height="48" fill="#5a5a5a"/><rect x="1122" y="247" width="5" height="44" fill="#1d4d2b"/><rect x="1123" y="248" width="3" height="42" fill="#4caf50"/><rect x="1130" y="241" width="1" height="18" fill="#5a5a5a"/><rect x="1128" y="243" width="5" height="6" fill="#1d4d2b"/><rect x="1129" y="244" width="3" height="4" fill="#4caf50"/><rect x="1137" y="239" width="1" height="24" fill="#5a5a5a"/><rect x="1135" y="242" width="5" height="3" fill="#1d4d2b"/><rect x="1136" y="243" width="3" height="1" fill="#4caf50"/><rect x="1144" y="208" width="1" height="46" fill="#5a5a5a"/><rect x="1142" y="213" width="5" height="40" fill="#1d4d2b"/><rect x="1143" y="214" width="3" height="38" fill="#4caf50"/><rect x="1151" y="197" width="1" height="28" fill="#5a5a5a"/><rect x="1149" y="199" width="5" height="15" fill="#1d4d2b"/><rect x="1150" y="200" width="3" height="13" fill="#4caf50"/><rect x="1157" y="199" width="1" height="18" fill="#5a5a5a"/><rect x="1155" y="202" width="5" height="9" fill="#5a1b14"/><rect x="1156" y="203" width="3" height="7" fill="#e0543f"/><rect x="1164" y="201" width="1" height="22" fill="#5a5a5a"/><rect x="1162" y="202" width="5" height="11" fill="#1d4d2b"/><rect x="1163" y="203" width="3" height="9" fill="#4caf50"/><rect x="1171" y="200" width="1" height="33" fill="#5a5a5a"/><rect x="1169" y="202" width="5" height="1" fill="#1d4d2b"/><rect x="1177" y="195" width="1" height="15" fill="#5a5a5a"/><rect x="1175" y="196" width="5" height="10" fill="#1d4d2b"/><rect x="1176" y="197" width="3" height="8" fill="#4caf50"/><rect x="1184" y="194" width="1" height="11" fill="#5a5a5a"/><rect x="1182" y="196" width="5" height="1" fill="#1d4d2b"/><rect x="1191" y="180" width="1" height="20" fill="#5a5a5a"/><rect x="1189" y="181" width="5" height="18" fill="#1d4d2b"/><rect x="1190" y="182" width="3" height="16" fill="#4caf50"/><rect x="1197" y="169" width="1" height="16" fill="#5a5a5a"/><rect x="1195" y="172" width="5" height="12" fill="#1d4d2b"/><rect x="1196" y="173" width="3" height="10" fill="#4caf50"/><rect x="1204" y="89" width="1" height="104" fill="#5a5a5a"/><rect x="1202" y="93" width="5" height="82" fill="#1d4d2b"/><rect x="1203" y="94" width="3" height="80" fill="#4caf50"/><rect x="1211" y="35" width="1" height="170" fill="#5a5a5a"/><rect x="1209" y="107" width="5" height="45" fill="#5a1b14"/><rect x="1210" y="108" width="3" height="43" fill="#e0543f"/><rect x="1218" y="106" width="1" height="54" fill="#5a5a5a"/><rect x="1216" y="107" width="5" height="46" fill="#1d4d2b"/><rect x="1217" y="108" width="3" height="44" fill="#4caf50"/><rect x="1224" y="103" width="1" height="148" fill="#5a5a5a"/><rect x="1222" y="107" width="5" height="103" fill="#5a1b14"/><rect x="1223" y="108" width="3" height="101" fill="#e0543f"/><rect x="1231" y="153" width="1" height="97" fill="#5a5a5a"/><rect x="1229" y="209" width="5" height="24" fill="#5a1b14"/><rect x="1230" y="210" width="3" height="22" fill="#e0543f"/><rect x="1238" y="229" width="1" height="56" fill="#5a5a5a"/><rect x="1236" y="234" width="5" height="22" fill="#5a1b14"/><rect x="1237" y="235" width="3" height="20" fill="#e0543f"/><rect x="1244" y="221" width="1" height="38" fill="#5a5a5a"/><rect x="1242" y="224" width="5" height="30" fill="#1d4d2b"/><rect x="1243" y="225" width="3" height="28" fill="#4caf50"/><rect x="1251" y="199" width="1" height="28" fill="#5a5a5a"/><rect x="1249" y="200" width="5" height="26" fill="#1d4d2b"/><rect x="1250" y="201" width="3" height="24" fill="#4caf50"/><rect x="1258" y="171" width="1" height="38" fill="#5a5a5a"/><rect x="1256" y="177" width="5" height="31" fill="#1d4d2b"/><rect x="1257" y="178" width="3" height="29" fill="#4caf50"/><rect x="1264" y="163" width="1" height="23" fill="#5a5a5a"/><rect x="1262" y="178" width="5" height="3" fill="#1d4d2b"/><rect x="1263" y="179" width="3" height="1" fill="#4caf50"/><rect x="1271" y="164" width="1" height="19" fill="#5a5a5a"/><rect x="1269" y="167" width="5" height="12" fill="#1d4d2b"/><rect x="1270" y="168" width="3" height="10" fill="#4caf50"/><rect x="1278" y="154" width="1" height="23" fill="#5a5a5a"/><rect x="1276" y="156" width="5" height="17" fill="#1d4d2b"/><rect x="1277" y="157" width="3" height="15" fill="#4caf50"/><rect x="1285" y="139" width="1" height="22" fill="#5a5a5a"/><rect x="1283" y="148" width="5" height="12" fill="#1d4d2b"/><rect x="1284" y="149" width="3" height="10" fill="#4caf50"/><rect x="1291" y="144" width="1" height="57" fill="#5a5a5a"/><rect x="1289" y="149" width="5" height="46" fill="#5a1b14"/><rect x="1290" y="150" width="3" height="44" fill="#e0543f"/><rect x="1298" y="176" width="1" height="57" fill="#5a5a5a"/><rect x="1296" y="179" width="5" height="18" fill="#1d4d2b"/><rect x="1297" y="180" width="3" height="16" fill="#4caf50"/><rect x="1305" y="162" width="1" height="23" fill="#5a5a5a"/><rect x="1303" y="170" width="5" height="11" fill="#1d4d2b"/><rect x="1304" y="171" width="3" height="9" fill="#4caf50"/><rect x="1311" y="153" width="1" height="25" fill="#5a5a5a"/><rect x="1309" y="153" width="5" height="23" fill="#1d4d2b"/><rect x="1310" y="154" width="3" height="21" fill="#4caf50"/><rect x="1318" y="145" width="1" height="21" fill="#5a5a5a"/><rect x="1316" y="154" width="5" height="3" fill="#5a1b14"/><rect x="1317" y="155" width="3" height="1" fill="#e0543f"/><rect x="1325" y="136" width="1" height="24" fill="#5a5a5a"/><rect x="1323" y="137" width="5" height="22" fill="#1d4d2b"/><rect x="1324" y="138" width="3" height="20" fill="#4caf50"/><rect x="1331" y="125" width="1" height="21" fill="#5a5a5a"/><rect x="1329" y="133" width="5" height="8" fill="#1d4d2b"/><rect x="1330" y="134" width="3" height="6" fill="#4caf50"/><rect x="1338" y="127" width="1" height="11" fill="#5a5a5a"/><rect x="1336" y="133" width="5" height="3" fill="#1d4d2b"/><rect x="1337" y="134" width="3" height="1" fill="#4caf50"/><rect x="1345" y="132" width="1" height="9" fill="#5a5a5a"/><rect x="1343" y="135" width="5" height="1" fill="#1d4d2b"/><rect x="1352" y="125" width="1" height="19" fill="#5a5a5a"/><rect x="1350" y="126" width="5" height="12" fill="#1d4d2b"/><rect x="1351" y="127" width="3" height="10" fill="#4caf50"/><rect x="1358" y="110" width="1" height="24" fill="#5a5a5a"/><rect x="1356" y="111" width="5" height="18" fill="#1d4d2b"/><rect x="1357" y="112" width="3" height="16" fill="#4caf50"/><rect x="1365" y="111" width="1" height="39" fill="#5a5a5a"/><rect x="1363" y="114" width="5" height="24" fill="#5a1b14"/><rect x="1364" y="115" width="3" height="22" fill="#e0543f"/><rect x="1372" y="127" width="1" height="17" fill="#5a5a5a"/><rect x="1370" y="128" width="5" height="11" fill="#1d4d2b"/><rect x="1371" y="129" width="3" height="9" fill="#4caf50"/></g>
<line x1="3" y1="128.5" x2="1442" y2="128.5" stroke="#4caf50" stroke-width="1" stroke-dasharray="1 2"/>
<polyline points="3.0,681.5 12.6,683.3 32.8,683.3 50.5,683.0 78.3,684.8 101.0,684.8 118.7,684.0 133.8,687.1 146.5,689.8 157.8,693.4 166.7,693.9 176.8,693.1 186.9,694.4 191.9,695.4 199.5,695.9 205.8,697.2 212.1,696.9 219.2,698.4 226.0,691.6 236.1,693.4 246.2,692.4 257.6,692.9 271.5,693.4 279.0,695.4 286.6,697.2 292.9,696.2 299.2,697.9 309.3,701.2 320.7,703.7 332.1,705.0 342.2,703.7 352.8,702.2 359.8,695.4 368.7,694.6 380.1,693.1 391.5,694.4 402.8,695.7 412.9,698.2 419.7,698.7 428.1,695.4 440.7,693.1 454.6,688.8 467.2,686.3 473.5,687.1 481.1,689.1 487.4,688.8 493.7,687.8 501.3,687.3 513.9,684.5 521.5,684.5 534.1,686.8 541.0,676.0 548.0,673.4 554.3,672.9 560.7,673.2 568.2,669.6 574.5,669.4 588.4,671.7 594.0,669.4 601.1,670.9 608.6,671.4 621.3,674.7 627.6,675.2 635.2,674.9 641.5,675.7 647.8,676.0 655.4,674.9 668.0,672.7 680.6,673.7 695.8,674.2 708.4,675.5 721.0,674.9 728.6,677.0 740.6,679.5 755.2,677.7 767.8,680.0 781.7,681.8 789.2,680.5 795.6,680.5 802.4,678.2 809.4,679.7 815.8,680.8 822.1,682.5 828.4,681.5 842.3,685.3 848.6,683.8 854.9,685.6 861.2,686.1 868.8,687.1 876.4,689.1 883.9,690.4 896.6,692.9 909.2,695.4 923.1,697.9 929.4,695.4 942.0,696.4 949.6,696.7 955.9,696.4 963.5,693.4 969.8,691.6 976.1,692.4 983.7,690.6 992.5,691.6 1003.9,691.4 1010.2,693.4 1016.5,690.4 1022.8,689.8 1030.4,688.3 1038.0,689.1 1050.6,692.9 1056.9,693.1 1070.8,696.9 1078.4,698.4 1091.0,701.2 1097.3,701.7 1104.9,701.5 1116.7,704.5 1123.9,701.2 1136.5,702.2 1144.1,699.4 1150.4,699.2 1156.7,700.2 1164.3,700.7 1170.6,699.7 1184.5,703.0 1197.1,704.2 1203.9,694.1 1211.0,681.0 1217.8,680.0 1224.1,672.2 1230.7,669.4 1237.5,668.9 1245.1,670.2 1251.4,671.4 1257.7,672.2 1271.6,675.7 1285.0,678.7 1298.1,676.5 1312.0,679.5 1327.2,682.8 1344.8,688.3 1351.2,689.6 1357.5,690.4 1365.1,689.6 1371.9,691.1" fill="none" stroke="#b71c1c" stroke-width="1.2" stroke-linejoin="round" />
<polyline points="3.0,728.9 7.0,730.9 11.0,734.9 18.9,734.3 24.9,736.5 31.9,741.3 37.9,739.9 44.8,735.5 51.8,734.9 57.8,736.9 63.8,738.9 71.8,742.9 77.7,744.5 84.7,736.9 91.7,723.9 98.7,721.3 105.6,723.9 112.6,725.9 119.0,742.5 125.6,737.9 131.6,732.9 137.5,735.3 144.5,732.3 151.5,734.3 160.5,734.9 165.8,732.3 172.4,737.3 178.4,734.5 186.4,726.9 198.7,721.9 205.3,725.5 211.9,730.9 218.9,726.5 225.8,739.3 232.2,738.3 239.2,744.1 245.6,739.9 252.1,743.9 258.7,746.5 266.1,742.3 273.1,733.5 279.1,732.9 286.0,735.5 290.0,736.9 293.6,737.5 300.0,731.5 306.9,732.5 313.5,733.5 319.9,736.5 325.9,738.5 332.9,730.3 339.8,728.3 352.8,753.2 359.8,720.9 366.7,719.6 380.1,750.2 386.7,748.3 393.2,736.9 399.6,730.3 406.6,725.9 412.6,724.9 420.0,726.3 426.9,741.3 433.5,739.3 439.9,742.5 453.4,773.8 459.8,780.1 466.8,763.4 473.4,758.8 479.8,757.4 487.3,763.4 493.7,771.4 500.7,773.8 507.3,765.8 514.2,767.8 521.2,767.4 533.6,762.4 540.7,777.4 548.1,774.2 554.1,763.4 560.7,764.4 574.0,778.4 580.0,773.8 588.0,766.4 594.0,759.8 600.9,759.0 608.9,763.0 614.9,762.4 620.9,761.0 627.8,761.6 634.8,765.4 641.8,763.4 648.2,760.4 654.7,752.4 661.3,742.3 668.1,735.5 675.1,739.5 681.7,740.5 688.0,730.3 695.0,728.3 702.0,734.9 708.6,732.3 715.1,726.5 721.9,722.5 728.5,725.9 735.5,728.5 741.8,731.9 748.8,733.9 755.4,737.3 762.4,738.3 769.0,737.5 775.3,739.9 781.9,741.5 788.3,745.9 795.3,750.4 802.2,741.5 809.2,734.5 815.8,738.9 822.2,741.5 828.8,729.9 835.7,724.3 842.1,725.3 849.1,714.0 856.1,719.0 862.4,729.9 869.5,731.3 876.0,734.9 883.0,736.9 888.9,737.3 895.9,736.1 901.9,736.5 908.9,736.9 915.8,739.3 922.8,738.3 928.8,745.9 935.8,742.5 942.8,742.3 949.7,747.5 956.1,764.2 963.1,790.3 969.7,797.3 976.2,786.7 983.0,772.8 989.6,766.8 996.6,760.8 1003.1,754.2 1009.9,750.4 1016.5,741.9 1023.1,733.3 1029.5,734.9 1036.4,733.5 1043.4,735.1 1050.4,735.1 1056.4,736.1 1063.3,737.7 1069.9,738.5 1077.3,737.7 1083.3,738.3 1089.9,738.9 1097.2,741.3 1104.2,741.9 1110.2,739.5 1117.2,739.7 1123.1,730.3 1130.1,719.4 1137.1,719.6 1143.7,713.4 1150.6,716.4 1157.0,724.3 1160.0,725.9 1171.0,732.3 1176.9,731.5 1183.9,733.3 1190.5,732.3 1196.9,731.3 1203.9,723.5 1210.8,727.3 1217.8,728.5 1224.2,741.9 1230.8,747.9 1238.1,761.8 1244.7,756.4 1251.3,750.2 1258.3,743.9 1264.6,741.9 1271.6,741.3 1278.6,738.5 1284.6,735.9 1291.6,747.9 1298.5,753.4 1304.5,745.9 1311.1,741.5 1317.9,740.3 1324.4,737.3 1331.4,735.3 1338.0,734.3 1344.4,735.3 1351.0,733.9 1357.7,731.3 1364.7,736.9 1371.7,737.9" fill="none" stroke="#2962ff" stroke-width="1.25" stroke-linejoin="round" />
<rect x="1442" y="2" width="1" height="829" fill="#4d4d4f"/>
<rect x="3" y="803" width="1499" height="1" fill="#4d4d4f"/>
<rect x="3" y="666" width="1499" height="1" fill="#e0e3eb"/>
<rect x="3" y="708" width="1499" height="1" fill="#e0e3eb"/>
<!-- legend backgrounds -->
<rect x="3" y="669" width="120" height="25" fill="#fff" fill-opacity=".64"/>
<rect x="3" y="710" width="157" height="28" fill="#fff" fill-opacity=".64"/>
<!-- bid / ask boxes -->
<rect x="11.5" y="34.5" width="60" height="23" rx="4" fill="#fff" stroke="#f23645"/>
<rect x="103.5" y="34.5" width="60" height="23" rx="4" fill="#fff" stroke="#2962ff"/>
<!-- collapse button -->
<rect x="12.5" y="89.5" width="28" height="19" rx="3" fill="#fff" stroke="#cfd2dc"/>
<path d="M22.5 100.5 l3.5 -3.5 l3.5 3.5" fill="none" stroke="#222" stroke-width="1.3"/>
<!-- status dot -->
<circle cx="390" cy="18" r="8.5" fill="#d3eee9"/>
<circle cx="390" cy="18" r="3.7" fill="#089981"/>
<!-- flags -->
<g>
<circle cx="24.300" cy="14.800" r="5.700" fill="#e9edf5"/>
<circle cx="24.300" cy="14.800" r="2.900" fill="#f0525f"/>
<circle cx="18" cy="21" r="7.500" fill="#fff"/>
<clipPath id="us"><circle cx="18" cy="21" r="6"/></clipPath>
<g clip-path="url(#us)">
<rect x="12" y="15" width="12" height="12" fill="#fff"/>
<rect x="12" y="15.600" width="12" height="2.300" fill="#ef4a4a"/>
<rect x="12" y="20.200" width="12" height="2" fill="#ef4a4a"/>
<rect x="12" y="24.600" width="12" height="2.600" fill="#ef4a4a"/>
<rect x="12" y="15" width="7.200" height="7" fill="#3d8bf2"/>
<g fill="#fff"><circle cx="14.200" cy="17" r=".45"/><circle cx="16" cy="17" r=".45"/><circle cx="17.800" cy="17" r=".45"/><circle cx="13.600" cy="18.800" r=".45"/><circle cx="15.400" cy="18.800" r=".45"/><circle cx="17.200" cy="18.800" r=".45"/><circle cx="13.400" cy="20.600" r=".45"/><circle cx="15.200" cy="20.600" r=".45"/><circle cx="17" cy="20.600" r=".45"/></g>
</g>
</g>
<!-- currency box -->
<rect x="1446.5" y="6.500" width="51" height="25" rx="4" fill="#fff" stroke="#e0e3eb"/>
<path d="M1487.900 18.300 l2.600 2.500 l2.600 -2.500" fill="none" stroke="#131722" stroke-width="1.300"/>
<text class="wm2s" y="827.500" x="1270 1296.300 1324 1349 1366.500 1402 1427 1447.500 1473.500" font-size="32.500" font-weight="bold" font-style="italic" fill="#85c0f9" stroke="#85c0f9" stroke-width="2" stroke-linejoin="round" style="filter:drop-shadow(1.600px 1.600px 0.500px rgba(60,90,140,.85))">zzrt01.cn</text>
<text y="24.2" font-size="16" fill="#4a4a4a"><tspan x="34.0" textLength="33.4" lengthAdjust="spacingAndGlyphs">U.S. </tspan><tspan x="69.1" textLength="47.4" lengthAdjust="spacingAndGlyphs">Dollar </tspan><tspan x="120.1" textLength="9.2" lengthAdjust="spacingAndGlyphs">/ </tspan><tspan x="129.4" textLength="68.0" lengthAdjust="spacingAndGlyphs">Japanese </tspan><tspan x="197.5" textLength="31.5" lengthAdjust="spacingAndGlyphs">Yen </tspan><tspan x="229.1" textLength="8.1" lengthAdjust="spacingAndGlyphs">· </tspan><tspan x="237.3" textLength="22.5" lengthAdjust="spacingAndGlyphs">1D </tspan><tspan x="259.9" textLength="6.6" lengthAdjust="spacingAndGlyphs">· </tspan><tspan x="266.6" textLength="98.1" lengthAdjust="spacingAndGlyphs">PEPPERSTONE</tspan></text>
<text x="415.0" y="23.2" font-size="13" textLength="54.7" lengthAdjust="spacingAndGlyphs"><tspan fill="#555555">O</tspan><tspan fill="#1f6b45">156.764</tspan></text>
<text x="476.9" y="23.2" font-size="13" textLength="54.1" lengthAdjust="spacingAndGlyphs"><tspan fill="#555555">H</tspan><tspan fill="#1f6b45">157.136</tspan></text>
<text x="537.9" y="23.2" font-size="13" textLength="51.7" lengthAdjust="spacingAndGlyphs"><tspan fill="#555555">L</tspan><tspan fill="#1f6b45">156.573</tspan></text>
<text x="597.2" y="23.2" font-size="13" textLength="52.8" lengthAdjust="spacingAndGlyphs"><tspan fill="#555555">C</tspan><tspan fill="#1f6b45">157.107</tspan></text>
<text x="658.1" y="23.2" font-size="13" fill="#1f6b45" font-weight="normal" text-anchor="start" textLength="37.0" lengthAdjust="spacingAndGlyphs" >+0.298</text>
<text x="701.2" y="23.2" font-size="13" fill="#1f6b45" font-weight="normal" text-anchor="start" textLength="47.7" lengthAdjust="spacingAndGlyphs" >(+0.19%)</text>
<text y="78.8" font-size="13" fill="#555555"><tspan x="12.0" textLength="20.6" lengthAdjust="spacingAndGlyphs">MA </tspan><tspan x="32.7" textLength="43.5" lengthAdjust="spacingAndGlyphs">Ribbon </tspan><tspan x="76.3" textLength="26.7" lengthAdjust="spacingAndGlyphs">SMA </tspan><tspan x="103.1" textLength="32.9" lengthAdjust="spacingAndGlyphs">close </tspan><tspan x="136.1" textLength="17.2" lengthAdjust="spacingAndGlyphs">20 </tspan><tspan x="153.4" textLength="26.7" lengthAdjust="spacingAndGlyphs">SMA </tspan><tspan x="180.2" textLength="33.1" lengthAdjust="spacingAndGlyphs">close </tspan><tspan x="213.4" textLength="17.2" lengthAdjust="spacingAndGlyphs">50 </tspan><tspan x="230.7" textLength="26.5" lengthAdjust="spacingAndGlyphs">SMA </tspan><tspan x="257.3" textLength="34.2" lengthAdjust="spacingAndGlyphs">close </tspan><tspan x="291.6" textLength="23.3" lengthAdjust="spacingAndGlyphs">100 </tspan><tspan x="315.0" textLength="27.0" lengthAdjust="spacingAndGlyphs">SMA </tspan><tspan x="342.1" textLength="33.1" lengthAdjust="spacingAndGlyphs">close </tspan><tspan x="375.3" textLength="19.9" lengthAdjust="spacingAndGlyphs">200</tspan></text>
<text x="404.4" y="78.1" font-size="12.5" fill="#f23645" font-weight="normal" text-anchor="start" textLength="43.8" lengthAdjust="spacingAndGlyphs" >156.143</text>
<text x="456.0" y="78.1" font-size="12.5" fill="#2962ff" font-weight="normal" text-anchor="start" textLength="44.0" lengthAdjust="spacingAndGlyphs" >154.552</text>
<text x="508.0" y="78.1" font-size="12.5" fill="#333" font-weight="normal" text-anchor="start" textLength="6.4" lengthAdjust="spacingAndGlyphs" >∅</text>
<text x="521.8" y="78.1" font-size="12.5" fill="#111" font-weight="normal" text-anchor="start" textLength="43.6" lengthAdjust="spacingAndGlyphs" >149.620</text>
<text x="19.8" y="50.8" font-size="13" fill="#f23645" font-weight="normal" text-anchor="start" textLength="37.8" lengthAdjust="spacingAndGlyphs" >157.10</text>
<text x="58.6" y="49.0" font-size="11" fill="#f23645" font-weight="normal" text-anchor="start" textLength="4.9" lengthAdjust="spacingAndGlyphs" >7</text>
<text x="80.0" y="50.0" font-size="11" fill="#222" font-weight="normal" text-anchor="start" textLength="14.7" lengthAdjust="spacingAndGlyphs" >0.2</text>
<text x="111.7" y="50.8" font-size="13" fill="#2962ff" font-weight="normal" text-anchor="start" textLength="37.8" lengthAdjust="spacingAndGlyphs" >157.10</text>
<text x="150.5" y="49.0" font-size="11" fill="#2962ff" font-weight="normal" text-anchor="start" textLength="4.9" lengthAdjust="spacingAndGlyphs" >9</text>
<text x="12.2" y="687.9" font-size="13" fill="#555555" font-weight="normal" text-anchor="start" textLength="67.1" lengthAdjust="spacingAndGlyphs" >ATR 14 RMA</text>
<text x="88.4" y="687.9" font-size="13" fill="#b71c1c" font-weight="normal" text-anchor="start" textLength="30.3" lengthAdjust="spacingAndGlyphs" >1.029</text>
<text x="12.4" y="729.9" font-size="13" fill="#555555" font-weight="normal" text-anchor="start" textLength="101.2" lengthAdjust="spacingAndGlyphs" >CCI 20 hlc3 SMA 5</text>
<text x="122.6" y="729.9" font-size="13" fill="#2962ff" font-weight="normal" text-anchor="start" textLength="31.0" lengthAdjust="spacingAndGlyphs" >76.43</text>
<text x="69.2" y="821.2" font-size="12.5" fill="#555555" font-weight="normal" text-anchor="start" textLength="18.8" lengthAdjust="spacingAndGlyphs" >Sep</text>
<text x="210.2" y="821.2" font-size="12.5" fill="#555555" font-weight="normal" text-anchor="start" textLength="18.7" lengthAdjust="spacingAndGlyphs" >Oct</text>
<text x="357.5" y="821.2" font-size="12.5" fill="#555555" font-weight="normal" text-anchor="start" textLength="20.2" lengthAdjust="spacingAndGlyphs" >Nov</text>
<text x="505.0" y="821.2" font-size="12.5" fill="#555555" font-weight="normal" text-anchor="start" textLength="19.2" lengthAdjust="spacingAndGlyphs" >Dec</text>
<text x="786.0" y="821.2" font-size="12.5" fill="#555555" font-weight="normal" text-anchor="start" textLength="19.2" lengthAdjust="spacingAndGlyphs" >Feb</text>
<text x="927.0" y="821.2" font-size="12.5" fill="#555555" font-weight="normal" text-anchor="start" textLength="19.2" lengthAdjust="spacingAndGlyphs" >Mar</text>
<text x="1068.8" y="821.2" font-size="12.5" fill="#555555" font-weight="normal" text-anchor="start" textLength="17.7" lengthAdjust="spacingAndGlyphs" >Apr</text>
<text x="1214.0" y="821.2" font-size="12.5" fill="#555555" font-weight="normal" text-anchor="start" textLength="21.2" lengthAdjust="spacingAndGlyphs" >May</text>
<text x="1369.8" y="821.2" font-size="12.5" fill="#555555" font-weight="normal" text-anchor="start" textLength="17.7" lengthAdjust="spacingAndGlyphs" >Jun</text>
<text x="635.1" y="821.2" font-size="12.5" fill="#333" font-weight="bold" text-anchor="start" textLength="26.8" lengthAdjust="spacingAndGlyphs" >2024</text>
<text x="1451.0" y="644.8" font-size="12" fill="#555555" font-weight="normal" text-anchor="start" textLength="41.0" lengthAdjust="spacingAndGlyphs" >140.000</text>
<text x="1451.0" y="585.0" font-size="12" fill="#555555" font-weight="normal" text-anchor="start" textLength="41.0" lengthAdjust="spacingAndGlyphs" >142.000</text>
<text x="1451.0" y="525.2" font-size="12" fill="#555555" font-weight="normal" text-anchor="start" textLength="41.0" lengthAdjust="spacingAndGlyphs" >144.000</text>
<text x="1451.0" y="465.5" font-size="12" fill="#555555" font-weight="normal" text-anchor="start" textLength="41.0" lengthAdjust="spacingAndGlyphs" >146.000</text>
<text x="1451.0" y="405.7" font-size="12" fill="#555555" font-weight="normal" text-anchor="start" textLength="41.0" lengthAdjust="spacingAndGlyphs" >148.000</text>
<text x="1451.0" y="345.9" font-size="12" fill="#555555" font-weight="normal" text-anchor="start" textLength="41.0" lengthAdjust="spacingAndGlyphs" >150.000</text>
<text x="1451.0" y="286.1" font-size="12" fill="#555555" font-weight="normal" text-anchor="start" textLength="41.0" lengthAdjust="spacingAndGlyphs" >152.000</text>
<text x="1451.0" y="226.3" font-size="12" fill="#555555" font-weight="normal" text-anchor="start" textLength="41.0" lengthAdjust="spacingAndGlyphs" >154.000</text>
<text x="1451.0" y="166.6" font-size="12" fill="#555555" font-weight="normal" text-anchor="start" textLength="41.0" lengthAdjust="spacingAndGlyphs" >156.000</text>
<text x="1451.0" y="106.8" font-size="12" fill="#555555" font-weight="normal" text-anchor="start" textLength="41.0" lengthAdjust="spacingAndGlyphs" >158.000</text>
<text x="1451.0" y="47.0" font-size="12" fill="#555555" font-weight="normal" text-anchor="start" textLength="41.0" lengthAdjust="spacingAndGlyphs" >160.000</text>
<text x="1450.8" y="696.8" font-size="12" fill="#555555" font-weight="normal" text-anchor="start" textLength="28.5" lengthAdjust="spacingAndGlyphs" >1.000</text>
<text x="1450.5" y="717.8" font-size="12" fill="#555555" font-weight="normal" text-anchor="start" textLength="35.1" lengthAdjust="spacingAndGlyphs" >250.00</text>
<text x="1451.0" y="754.3" font-size="12" fill="#555555" font-weight="normal" text-anchor="start" textLength="22.0" lengthAdjust="spacingAndGlyphs" >0.00</text>
<text x="1451.0" y="789.8" font-size="12" fill="#555555" font-weight="normal" text-anchor="start" textLength="42.0" lengthAdjust="spacingAndGlyphs" >−250.00</text>
<text x="1450.0" y="22.7" font-size="12.5" fill="#131722" font-weight="normal" text-anchor="start" textLength="19.3" lengthAdjust="spacingAndGlyphs" >JPY</text>
<path d="M1443 275 h53 a2 2 0 0 1 2 2 v13 a2 2 0 0 1 -2 2 h-53 z" fill="#000"/>
<text x="1450.6" y="287.5" font-size="12" font-weight="bold" fill="#fff" textLength="41" lengthAdjust="spacingAndGlyphs">151.916</text>
<path d="M1443 438 h53 a2 2 0 0 1 2 2 v13 a2 2 0 0 1 -2 2 h-53 z" fill="#000"/>
<text x="1450.6" y="450.5" font-size="12" font-weight="bold" fill="#fff" textLength="41" lengthAdjust="spacingAndGlyphs">146.474</text>
<path d="M1443 480 h53 a2 2 0 0 1 2 2 v13 a2 2 0 0 1 -2 2 h-53 z" fill="#000"/>
<text x="1450.6" y="492.5" font-size="12" font-weight="bold" fill="#fff" textLength="41" lengthAdjust="spacingAndGlyphs">145.054</text>
<path d="M1443 623 h53 a2 2 0 0 1 2 2 v13 a2 2 0 0 1 -2 2 h-53 z" fill="#000"/>
<text x="1450.6" y="635.5" font-size="12" font-weight="bold" fill="#fff" textLength="41" lengthAdjust="spacingAndGlyphs">140.286</text>
<!-- tv logo -->
<g transform="translate(13.04,768) scale(0.98)" fill="#131722" stroke="#fff" stroke-width="2.4" paint-order="stroke" stroke-linejoin="round"><path d="M14 6H2v6h6v9h6V6Zm12 15h-7l6.5-15h7L26 21ZM18.500 12a3 3 0 1 0 0-6 3 3 0 0 0 0 6Z"/></g>
<!-- settings icon -->
<g fill="none" stroke="#131722" stroke-width="1.200"><path d="M1466 817.300 l3.300 -5.700 h6.600 l3.300 5.700 l-3.300 5.700 h-6.600 z"/><circle cx="1472.600" cy="817.300" r="2.200"/></g>
</svg>
<div class="wm1">海马财经</div>
</body></html>
